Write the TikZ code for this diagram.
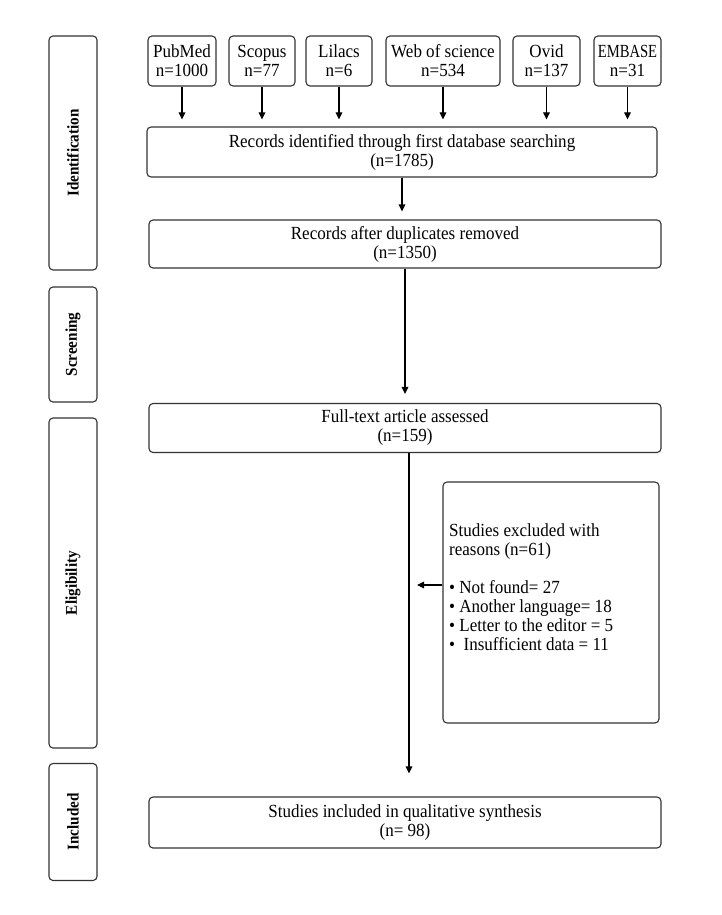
\documentclass[tikz,border=0pt]{standalone}
\usepackage{fontspec}
\setmainfont{Liberation Serif}[FakeStretch=0.92]
\usetikzlibrary{arrows.meta}
\begin{document}
\begin{tikzpicture}[x=1pt,y=-1pt,
  box/.style={draw=black!80, line width=1.1pt, rounded corners=4pt, align=center, inner sep=0pt, font=\fontsize{18.5}{19}\selectfont},
  side/.style={draw=black!80, line width=1.1pt, rounded corners=4pt, rotate=90, inner sep=0pt, font=\fontsize{16.5}{18}\selectfont\bfseries},
  arr/.style={line width=1.1pt, -{Triangle[width=6.5pt,length=7pt]}}]
\useasboundingbox (0,0) rectangle (721,915);
\fill[white] (0,0) rectangle (721,915);
% side labels
\node[side, minimum width=234pt, minimum height=48pt] (sid) at (73,153) {Identification};
\node[side, minimum width=115pt, minimum height=48pt] (sscr) at (73,344.5) {Screening};
\node[side, minimum width=330pt, minimum height=48pt] (selig) at (73,583) {Eligibility};
\node[side, minimum width=117pt, minimum height=48pt] (sinc) at (73,822) {Included};
% databases
\node[box, minimum width=68pt, minimum height=50pt] (pub) at (182,61) {PubMed\\n=1000};
\node[box, minimum width=66pt, minimum height=50pt] (sco) at (262,61) {Scopus\\n=77};
\node[box, minimum width=66pt, minimum height=50pt] (lil) at (339,61) {Lilacs\\n=6};
\node[box, minimum width=114pt, minimum height=50pt] (wos) at (443,61) {Web of science\\n=534};
\node[box, minimum width=67pt, minimum height=50pt] (ovi) at (546.5,61) {Ovid\\n=137};
\node[box, minimum width=67pt, minimum height=50pt] (emb) at (627.5,61) {\scalebox{0.86}[1]{EMBASE}\\n=31};
% main boxes
\node[box, minimum width=510pt, minimum height=50pt] (rec1) at (402,152) {Records identified through first database searching\\(n=1785)};
\node[box, minimum width=512pt, minimum height=48pt] (rec2) at (405,244) {Records after duplicates removed\\(n=1350)};
\node[box, minimum width=512pt, minimum height=49pt] (full) at (405,428) {Full-text article assessed\\(n=159)};
\node[box, minimum width=512pt, minimum height=51pt] (incl) at (405,822.5) {Studies included in qualitative synthesis\\(n= 98)};
\node[box, minimum width=216pt, minimum height=241pt] (excl) at (551,602.5) {};
\node[anchor=north west, align=left, inner sep=0pt, font=\fontsize{18.5}{19}\selectfont] (excltxt) at (449,523) {Studies excluded with\\reasons (n=61)\\[19pt]\textbullet{} Not found= 27\\\textbullet{} Another language= 18\\\textbullet{} Letter to the editor = 5\\\textbullet{}\ \ Insufficient data = 11};
% arrows
\foreach \n in {pub,sco,lil,wos,ovi,emb}
  \draw[arr, shorten >=7pt] (\n.south) -- (\n.south |- rec1.north);
\draw[arr, shorten >=8pt] (rec1.south) -- (rec1.south |- rec2.north);
\draw[arr, shorten >=9pt] (rec2.south) -- (rec2.south |- full.north);
\coordinate (fx) at (409,0);
\draw[arr, shorten >=23pt] (fx |- full.south) -- (fx |- incl.north);
\coordinate (ey) at (0,585);
\draw[arr, shorten >=8pt] (excl.west |- ey) -- (fx |- ey);
\end{tikzpicture}
\end{document}
